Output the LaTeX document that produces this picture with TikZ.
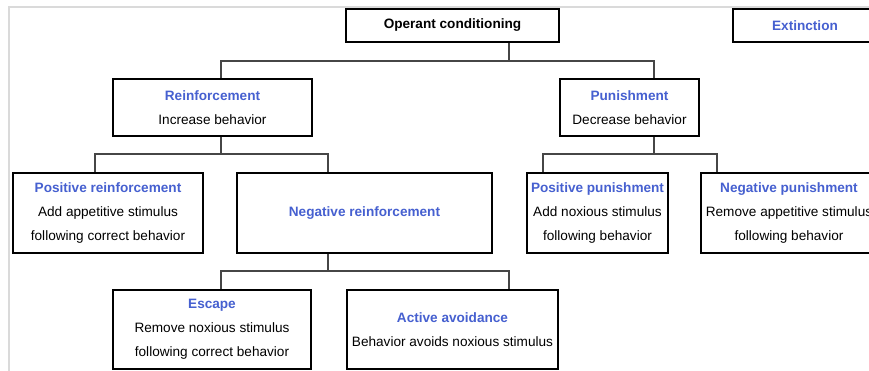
\documentclass[tikz,border=0pt]{standalone}
\usepackage{fontspec}
\setmainfont{Liberation Sans}
\definecolor{tblue}{RGB}{70,96,208}
\definecolor{framegray}{RGB}{218,218,218}
\definecolor{conngray}{RGB}{70,70,70}
\newcommand\boxtitle[1]{{\bfseries\color{tblue}#1}}
\tikzset{
  box/.style 2 args={draw=black, line width=1.6pt, fill=white, inner sep=0pt,
    minimum width=#1*0.75pt, minimum height=#2*0.75pt, align=center,
    font=\fontsize{10.2pt}{18pt}\selectfont},
  conn/.style={draw=conngray, line width=0.8pt},
}
\begin{document}
\begin{tikzpicture}[x=0.75pt,y=-0.75pt]
\useasboundingbox (0,0) rectangle (869,371);
\clip (0,0) rectangle (869,371);
\fill[white] (0,0) rectangle (869,371);
% faint frame
\draw[framegray, line width=1.5pt] (9,371) -- (9,7) -- (869,7);

% nodes
\node[box={213}{33}] (op) at (452.5,25.5) {\textbf{Operant conditioning}};
\node[box={144}{33}] (ext) at (805,25.5) {\boxtitle{Extinction}};
\node[box={199}{57}] (reinf) at (212.5,107.5) {\boxtitle{Reinforcement}\\Increase behavior};
\node[box={139}{57}] (pun) at (629.5,107.5) {\boxtitle{Punishment}\\Decrease behavior};
\node[box={190}{80}] (posr) at (108,213) {\boxtitle{Positive reinforcement}\\Add appetitive stimulus\\following correct behavior};
\node[box={255}{80}] (negr) at (364.5,213) {\boxtitle{Negative reinforcement}};
\node[box={141}{80}] (posp) at (597.5,213) {\boxtitle{Positive punishment}\\Add noxious stimulus\\following behavior};
\node[box={176}{80}] (negp) at (789,213) {\boxtitle{Negative punishment}\\Remove appetitive stimulus\\following behavior};
\node[box={198}{79}] (esc) at (212,329.5) {\boxtitle{Escape}\\Remove noxious stimulus\\following correct behavior};
\node[box={211}{79}] (act) at (452.5,329.5) {\boxtitle{Active avoidance}\\Behavior avoids noxious stimulus};

% junction coordinates
\coordinate (j0) at (509,61);
\coordinate (j0l) at (221,61);
\coordinate (j0r) at (654,61);
\coordinate (j1) at (221,154);
\coordinate (j1l) at (95,154);
\coordinate (j1r) at (328,154);
\coordinate (j2) at (654,154);
\coordinate (j2l) at (543,154);
\coordinate (j2r) at (717,154);
\coordinate (j3) at (328,271);
\coordinate (j3l) at (221,271);
\coordinate (j3r) at (509,271);

% connectors
\draw[conn] (op.south -| j0) -- (j0);
\draw[conn] (reinf.north -| j0l) -- (j0l) -- (j0r) -- (pun.north -| j0r);
\draw[conn] (reinf.south -| j1) -- (j1);
\draw[conn] (posr.north -| j1l) -- (j1l) -- (j1r) -- (negr.north -| j1r);
\draw[conn] (pun.south -| j2) -- (j2);
\draw[conn] (posp.north -| j2l) -- (j2l) -- (j2r) -- (negp.north -| j2r);
\draw[conn] (negr.south -| j3) -- (j3);
\draw[conn] (esc.north -| j3l) -- (j3l) -- (j3r) -- (act.north -| j3r);
\end{tikzpicture}
\end{document}
